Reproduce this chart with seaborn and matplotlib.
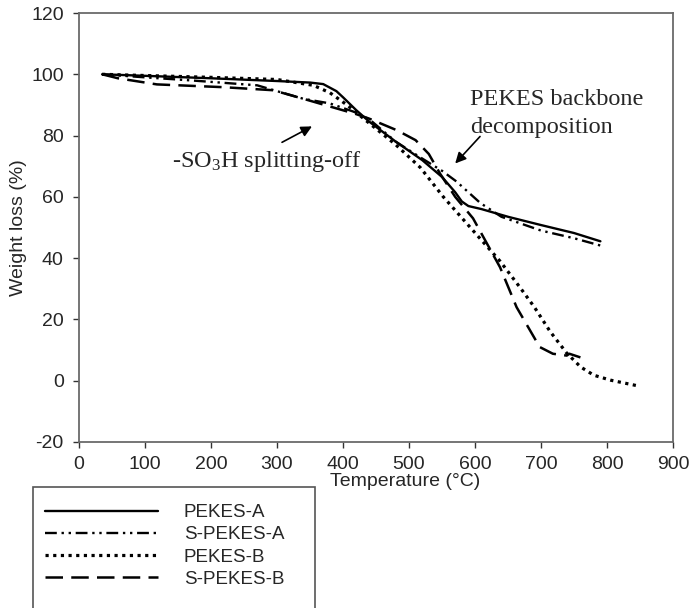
import numpy as np
import pandas as pd
import matplotlib
matplotlib.use("Agg")
import matplotlib.pyplot as plt
from matplotlib.patches import Rectangle
import seaborn as sns

# ---------------- data ----------------
samples = ["PEKES-A", "S-PEKES-A", "PEKES-B", "S-PEKES-B"]

t_pekes_a = [35, 100, 200, 300, 350, 370, 390, 400, 420, 440, 480, 520, 550, 570, 580, 590, 610, 650, 700, 750, 790]
w_pekes_a = [100, 99.5, 98.7, 97.8, 97.3, 96.8, 94.5, 92.5, 88.3, 84.5, 78, 72, 66.5, 61.5, 58.5, 57, 56, 53.5, 50.8, 48.2, 45.5]

t_spekes_a = [35, 100, 170, 270, 300, 340, 380, 420, 440, 480, 520, 550, 572, 590, 608, 640, 700, 750, 792]
w_spekes_a = [100, 99, 98, 96.4, 94.5, 92, 90.5, 87.5, 85.3, 78, 72.5, 68.5, 65, 61.5, 58, 53.5, 49, 46.5, 44]

t_pekes_b = [35, 100, 200, 300, 355, 380, 406, 440, 480, 517, 552, 597, 638, 668, 690, 714, 739, 760, 780, 805, 845]
w_pekes_b = [100, 99.6, 99, 98.3, 96.4, 94, 90, 84, 77, 69.6, 60, 49, 39, 30.5, 24, 16, 9, 4.5, 1.8, 0.2, -1.6]

t_spekes_b = [35, 59, 118, 218, 294, 340, 380, 420, 440, 482, 510, 530, 547, 570, 597, 638, 663, 698, 718, 739, 743, 771]
w_spekes_b = [100, 98.7, 96.7, 95.8, 94.8, 92, 89.5, 87, 85.5, 81.7, 78.5, 74, 67.6, 60, 53, 37, 24, 11, 8.8, 8.2, 8.8, 6.8]

x_ticks = list(range(0, 901, 100))
y_ticks = list(range(-20, 121, 20))

# ---------------- build table ----------------
frames = []
for name, t, w in [("PEKES-A", t_pekes_a, w_pekes_a),
                   ("S-PEKES-A", t_spekes_a, w_spekes_a),
                   ("PEKES-B", t_pekes_b, w_pekes_b),
                   ("S-PEKES-B", t_spekes_b, w_spekes_b)]:
    frames.append(pd.DataFrame({"Temperature": t, "Weight": w, "sample": name}))
df = pd.concat(frames, ignore_index=True)

# ---------------- style ----------------
sns.set_style("ticks")
plt.rcParams["font.family"] = ["Liberation Sans", "DejaVu Sans"]
plt.rcParams["axes.unicode_minus"] = False
plt.rcParams["mathtext.fontset"] = "custom"
plt.rcParams["mathtext.rm"] = "Liberation Serif"
plt.rcParams["mathtext.it"] = "Liberation Serif:italic"

fig = plt.figure(figsize=(6.91, 6.08), dpi=100)
W_px, H_px = 691, 608
ax = fig.add_axes([79 / W_px, 1 - 442 / H_px, (673 - 79) / W_px, (442 - 13) / H_px])

dash_map = {
    "PEKES-A": "",
    "S-PEKES-A": (5, 2, 1, 2, 1, 2),
    "PEKES-B": (1.0, 1.4),
    "S-PEKES-B": (7, 3.3),
}
width_map = {"PEKES-A": 1.7, "S-PEKES-A": 1.7, "PEKES-B": 2.3, "S-PEKES-B": 1.8}

sns.lineplot(data=df, x="Temperature", y="Weight", style="sample",
             style_order=samples, dashes=dash_map, color="black",
             estimator=None, sort=False, lw=1.7, ax=ax)

for line, name in zip(ax.lines, samples):
    line.set_linewidth(width_map[name])

ax.set_xlim(0, 900)
ax.set_ylim(-20, 120)
ax.set_xticks(x_ticks)
ax.set_yticks(y_ticks)
ax.set_xlabel("Temperature (°C)", fontsize=14)
ax.xaxis.set_label_coords((405 - 79) / (673 - 79), -0.072)
ax.set_ylabel("Weight loss (%)", fontsize=14, labelpad=3)
ax.tick_params(direction="out", length=4.5, width=1, labelsize=14, color="#333333")
ax.tick_params(axis="x", pad=5.5)
ax.tick_params(axis="y", pad=6.5)
for s in ax.spines.values():
    s.set_visible(True)
    s.set_color("#6a6a6a")
    s.set_linewidth(1.3)

# legend
handles, labels = ax.get_legend_handles_labels()
for h in handles:
    if h.get_label() in width_map:
        h.set_linewidth(width_map[h.get_label()])
ax.get_legend().remove()
fig.legend(handles, labels, loc="upper left",
           bbox_to_anchor=(45 / W_px, 1 - 504 / H_px), bbox_transform=fig.transFigure,
           frameon=False, fontsize=13.5, handlelength=6.0, handletextpad=1.4,
           labelspacing=0.27, borderpad=0, borderaxespad=0)
fig.patches.append(Rectangle((33 / W_px, -0.05), (315 - 33) / W_px, 0.05 + 1 - 487 / H_px,
                             transform=fig.transFigure, fill=False,
                             edgecolor="#555555", lw=1.2))

# annotations
serif = ["Liberation Serif", "DejaVu Serif"]
ax.text(592, 89.9, "PEKES backbone", family=serif, fontsize=17.5, va="baseline", ha="left")
ax.text(592, 81.0, "decomposition", family=serif, fontsize=17.5, va="baseline", ha="left")
ax.text(141, 69.9, r"-SO$_\mathregular{3}$H splitting-off", family=serif, fontsize=17.5,
        va="baseline", ha="left")

arrow_kw = dict(arrowstyle="-|>", color="black", lw=1.2, mutation_scale=16,
                shrinkA=0, shrinkB=0)
ax.annotate("", xy=(353, 83.0), xytext=(307.6, 77.8), arrowprops=arrow_kw)
ax.annotate("", xy=(570, 70.9), xytext=(607.6, 79.7), arrowprops=arrow_kw)

fig.savefig("out.png", dpi=100)
